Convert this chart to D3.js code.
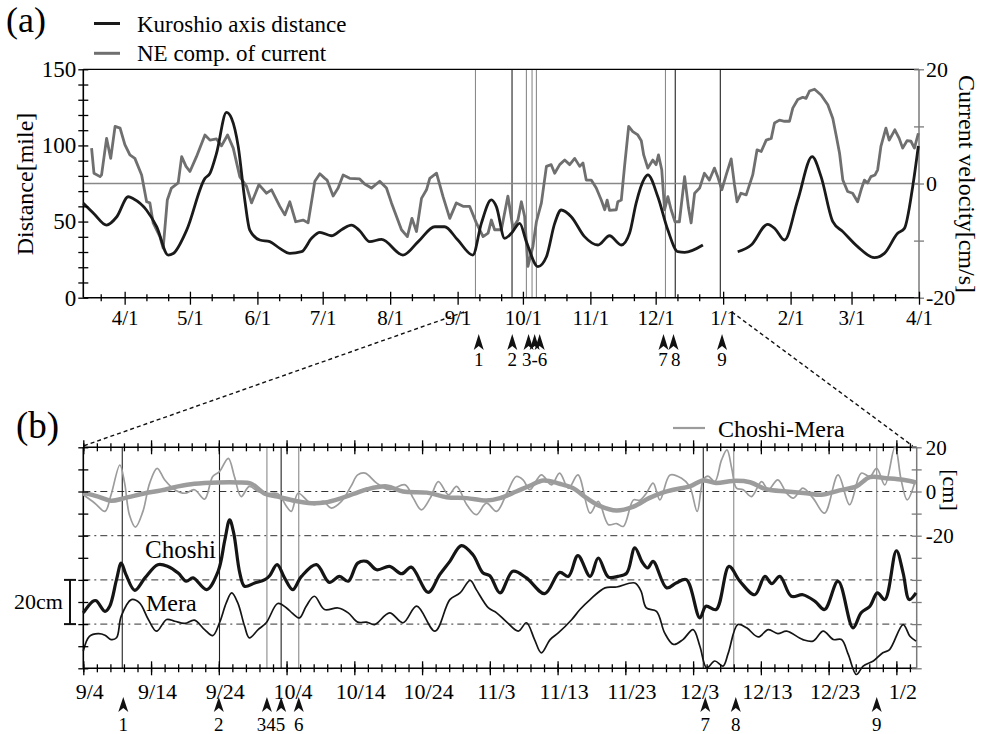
<!DOCTYPE html>
<html>
<head>
<meta charset="utf-8">
<title>Kuroshio axis distance / Choshi-Mera sea level</title>
<script src="https://cdn.jsdelivr.net/npm/d3@7"></script>
<style>
  body { margin: 0; background: #fff; }
  svg, svg text { font-family: "Liberation Serif", "Times New Roman", serif; }
</style>
</head>
<body>
<script>
// ---------- panel (a): [day since 3/13, value] ----------
var kuroshioDist = [[0,62],[5,55],[10.7,47.7],[15.3,53],[20.7,66.3],[23,65],[29,57.6],[33.7,46.6],[39,28],[41.3,29],
  [47.5,44.4],[55.9,78.4],[58.2,81.7],[61.2,94.8],[65.8,121.7],[68.1,117.8],[71.2,99.2],[74.2,64.2],[76.5,44.4],
  [81.1,37.9],[85.7,36.8],[90.3,32.4],[94.9,29.1],[100.3,30.2],[104.9,39],[108.7,42.9],[114,40.7],[119,45],[123.2,47.7],
  [127,44],[131.6,36.8],[137,38.3],[146.9,28],[154,37],[161.5,46.6],[166,46.6],[172,38],[179,28],[182.9,48.8],
  [187.5,64.2],[189.8,59.8],[193.6,39],[196.7,42.3],[200.5,48.8],[203.6,36.8],[208.9,20.4],[212.8,26.9],[216.6,48.8],
  [219.6,57.6],[224.2,53.2],[230.3,40.1],[236.5,34.6],[241.8,40.7],[247.2,34.6],[251,42.3],[254,62],[257.9,78.4],
  [259.4,80.6],[264,66.3],[268.6,44.4],[273.2,30.2],[276.3,29.8],[284.7,34.6],[292,null],
  [300.7,30.2],[306.9,34.6],[314.5,48.2],[318,45],[322.2,37.9],[328.3,64.2],[334.9,92.6],[339,79.5],[344.4,49.9],
  [349,43.4],[355.8,33.5],[363.5,26.3],[368.1,29.1],[374.2,42.3],[377.3,45.5],[381.1,72.9],[383.7,99.6]];

var neCurrent = [[3.8,6.2],[4.9,1.8],[7.7,1.2],[8.4,1.5],[10.7,7.9],[12.6,4.4],[14.6,10],[16.9,9.7],[19.1,6.8],[21.4,5],
  [23.7,4.4],[26.8,1.5],[29.1,-3.2],[30.6,-3.4],[32.1,-6.9],[35.2,-9.3],[36.7,-11.3],[38.6,-2.9],[40.5,-0.8],[43.6,0.1],
  [45.2,4.7],[47.2,3],[49,2.1],[52,4.7],[55.9,8.5],[58.2,7.6],[61.2,7.8],[63.5,6.6],[66.3,8.5],[68.9,6.2],[71.9,1.2],
  [75,-0.5],[77.3,-3.4],[80.7,-0.2],[84.2,-1.7],[86.5,-1.1],[90.3,-4],[92.6,-5.5],[94.9,-3.2],[97.6,-6.7],[101,-6.4],
  [103.3,-6.9],[106.4,0.4],[108.7,1.7],[111,0.9],[112,0.6],[114.8,-2.2],[117.1,-0.8],[119.4,1.5],[122.4,0.9],[127,0.8],
  [129.3,-0.1],[132.4,-0.8],[136.2,0.4],[139.3,-0.8],[141.6,-3.4],[146.2,-8.1],[148.9,-9.3],[151,-6.1],[153.1,-8.4],
  [155.4,-2.6],[157.7,-1.1],[159.2,0.9],[162.3,1.8],[165.3,-2.3],[168.4,-6.1],[171.4,-3.4],[174.5,-4],[177.5,-4],
  [180.6,-6.9],[183.7,-9.3],[186,-8.7],[187.5,-6.4],[189,-8.1],[192.1,-8.1],[195.1,-2.2],[197.4,-7.8],[199.7,-6.4],
  [201.3,-3.2],[202.8,-5.8],[204.3,-14.5],[206.6,-11],[208.2,-6.7],[210.5,-3.4],[212.8,3],[215,3.3],[216.6,1.8],
  [218.9,3.3],[221.2,4.1],[223.5,3.3],[225.8,4.4],[228.1,3],[229.6,3.6],[231.1,0.6],[233.4,0.6],[235.7,-0.8],[238,-2.9],
  [239.6,-4.6],[240.7,-2.9],[241.8,-4.7],[244.9,-4.6],[245.6,-3.2],[247.2,-2.9],[248.7,3],[250.6,10],[252.5,9.1],
  [254.8,8.5],[256.4,7.5],[257.5,5],[259.4,2.7],[261.7,4.1],[263.2,3.3],[264.3,5],[265.8,2.4],[267.1,-4.6],[268.6,-2.3],
  [270.1,-4.6],[271.9,-6.7],[273.9,-6.7],[276.3,1.2],[278.1,-4.3],[279.3,-6.9],[280.9,-1.7],[283.2,-0.8],[285.4,1.8],
  [287.7,0.6],[290,2.7],[291.5,1.2],[293.4,-1.1],[295.4,1.5],[297.7,4.3],[299.2,-0.2],[300.4,-3.2],[302.2,-1.7],
  [304.6,-2],[307.6,1.5],[309.6,5.9],[311.5,5.6],[313.8,7.6],[316.1,7.9],[317.6,10.6],[319.9,11.1],[322.2,10.9],
  [324.5,10.9],[326,13.2],[328.3,14.7],[330.6,15.1],[332.1,14.9],[333.7,16.2],[336,16.5],[339,15.5],[342.1,13.8],
  [344.4,11.4],[345.9,8.5],[347.5,5.3],[349,0.6],[351.2,-1.4],[353.5,-1.7],[355.8,-3.2],[357.4,-1.1],[358.9,0.6],
  [360.4,0.1],[361.9,1.2],[363.8,1.5],[365,2.4],[366.5,6.5],[368.8,9.7],[370.3,7.6],[372.9,9.4],[374.9,7.9],
  [376.5,6.2],[378.5,7.5],[380.3,7.4],[381.9,6.2],[383.7,8.8]];

var eventDaysA = [180.2, 197.0, 203.6, 206.2, 208.2, 267.5, 272.0, 292.7];
var eventGrayA = [true, false, true, true, true, true, false, false];
var arrowDaysA = [181.7, 197.1, 204.6, 207.4, 209.7, 266.6, 271.2, 293.5];
var arrowLabelsA = [[181.7,"1"],[197.1,"2"],[207.4,"3-6"],[266.4,"7"],[272.2,"8"],[293.5,"9"]];

// ---------- panel (b): [day since 9/4, cm] ----------
var choshi = [[0,-54.9],[1.4,-49.7],[1.9,-49.4],[3.2,-54.2],[3.9,-51.9],[4.9,-39.9],[5.6,-32.4],[6.3,-37.6],[7.6,-44.7],
  [9.1,-39.1],[11,-33.1],[12.5,-33.9],[14,-36.9],[15.2,-40.6],[16.2,-39.1],[18.2,-44.4],[19.9,-36.1],[20.9,-21.8],
  [21.6,-12.8],[22.2,-18.8],[23.1,-36.9],[23.8,-42.9],[25.3,-41.4],[26.8,-39.9],[27.5,-38.1],[28.6,-33.1],[29.7,-39.1],
  [30.9,-44.4],[32.2,-38.4],[34.4,-33.1],[36.3,-41.1],[37.8,-38.4],[39.1,-40.6],[40.5,-32.4],[41.8,-31.6],[43.3,-35.4],
  [45.2,-33.9],[47,-37.2],[48.4,-34.2],[50.9,-45.6],[52.6,-37.6],[54.1,-31.6],[55.8,-24.5],[57.5,-28.6],[59,-36.9],
  [60,-38.1],[61.5,-45.9],[63.4,-36.1],[65.4,-39.1],[68.1,-46.2],[70.3,-36.6],[71.6,-38.4],[73,-29],[74.8,-38.4],
  [76,-30.1],[77.5,-38.7],[78.9,-38.4],[80.2,-36.9],[81.4,-25.5],[82.5,-32],[83.3,-34.6],[84.1,-31.6],[86.1,-43.6],
  [87.5,-41.4],[89,-39.9],[91,-57.2],[91.9,-51.9],[93.4,-53.4],[95.3,-33.9],[96.9,-40.6],[99.1,-46.7],[100.6,-38.4],
  [101.6,-41.7],[102.8,-38.4],[104.5,-47.4],[106.2,-46.7],[108,-49.7],[109.4,-53.4],[111.4,-40.6],[113.6,-61.7],
  [114.8,-54.9],[116.1,-51.9],[117.2,-45.9],[118.3,-48.9],[120,-26.8],[121,-36.9],[121.9,-48.9],[122.9,-45.9]];

var mera = [[0,-72.2],[0.9,-65.5],[2.2,-64.3],[3.2,-65],[4.1,-67],[4.9,-66.2],[5.6,-56.4],[7.1,-48.9],[8.3,-50.4],
  [9.6,-57.9],[10.8,-63.2],[12.3,-57.9],[13.5,-58.7],[15,-59.7],[16.4,-58.2],[17.9,-62.5],[19.1,-65.2],[20.1,-59.4],
  [21.1,-50.4],[21.9,-45.9],[22.8,-50.4],[23.8,-60.9],[24.5,-66.2],[25.8,-62.5],[27,-59.4],[28.7,-50.7],[30,-52.7],
  [30.9,-55.2],[31.9,-57.2],[32.9,-51.9],[34.1,-47.4],[35.6,-53.4],[37.6,-52.7],[39.1,-54.9],[40.5,-59.1],[41.8,-59.1],
  [43,-60.2],[45.2,-54.9],[47.2,-59.4],[49.2,-51.9],[51.9,-63.2],[54.1,-48.9],[55.6,-45.9],[57.1,-40.2],[58,-44.4],
  [59.8,-52.7],[61,-54.9],[62.5,-59.1],[64.2,-63.2],[65.4,-59.4],[66.6,-67],[67.6,-73],[68.9,-67],[70.1,-64],
  [72.1,-57.9],[73.3,-53.4],[74.8,-48.9],[77,-43.6],[78.7,-43.2],[81.4,-41.4],[82.3,-45],[83.1,-52.7],[84.6,-54.2],
  [85.8,-64],[87.1,-69.2],[88.5,-67],[90,-62.5],[91,-70],[92,-79.8],[93.2,-76.7],[94.4,-79],[95.2,-73],[96.6,-60.2],
  [97.9,-61.7],[99.6,-65.8],[101.1,-62.5],[102.5,-64.3],[103.8,-63.2],[106.2,-67],[107.7,-67.7],[109.2,-63.2],
  [110.7,-67],[111.9,-67],[112.9,-73.7],[114.1,-82.8],[115.1,-79],[116.6,-76.7],[118,-73],[119,-71.5],[121,-60.2],
  [122,-65.5],[122.9,-67.7]];

var diffDaily = [[0,-1.5],[1.7,-5.3],[3.2,-9],[4.1,-1.5],[5.4,12],[6.1,3.8],[6.8,-10.5],[7.7,-16.1],[8.8,-9],[9.8,3.8],
  [10.9,10.5],[12,5.3],[13.5,0.8],[15,-0.8],[16.4,0.8],[17.9,-3.5],[19.1,6.8],[20.1,9],[21.4,15],[22.3,6.8],[23.3,-2.3],
  [24.5,2.3],[25.8,0],[27,-1],[28.7,-1],[30,-6.8],[30.7,-9],[31.7,-0.8],[33.2,-4.5],[34.1,-6],[35.4,-4.5],[36.6,-7.5],
  [38.1,-4.5],[39.5,2.3],[40.5,7.5],[41.6,8.3],[43.3,3.8],[45.2,0.8],[47.5,3],[48.7,-3],[49.9,-8.3],[51.2,-3],
  [52.4,4.5],[53.9,-1.5],[55.1,2.3],[56.6,-6],[58,-10.5],[59.5,-5.3],[61,-9],[62.5,-0.8],[63.9,6.8],[64.9,5.3],
  [65.9,0.8],[67.6,7.5],[69.1,3],[70.3,8.3],[71.6,1.5],[73,7.5],[74.8,-9.8],[76,-4.5],[77.5,-15],[78.7,-14.5],
  [79.7,-15.8],[81.2,-3.8],[82.1,-4],[83.1,-0.8],[84.1,3.8],[85.1,-3.8],[86.6,7.5],[88.3,6],[89.5,2.3],[90.6,-9],
  [91.5,5.3],[92.2,7],[93.2,4.5],[94.2,14.3],[95,18.8],[95.7,10.5],[96.4,1.5],[97.4,0.8],[98.6,-2.3],[100.1,4.5],
  [101.1,0.8],[102.5,5.3],[103.8,-0.8],[104.8,-3],[106.2,1.5],[107.7,-3],[109.4,-9.8],[111.4,7.5],[113.1,-6],
  [114.8,8.3],[116.1,6.8],[117.1,10.5],[118.3,3],[119.8,20.3],[120.7,5.3],[121.6,-3.8],[122.7,3.8]];

var diffSmooth = [[0,-0.5],[2.2,-2.3],[4.1,-4.2],[6.1,-3],[9.1,-0.8],[11.5,0.5],[14,2.3],[16.4,3.5],[19.9,4.1],
  [22.8,4.1],[24.8,3.5],[26.8,-1],[28.7,-2.3],[31.2,-4.2],[33.7,-5.3],[35.6,-5],[38.1,-3],[40,-1],[41.9,1],[44.8,2.3],
  [47.2,0],[50.7,-0.5],[53.6,-2.6],[56.6,-3],[59.5,-4.1],[61.5,-3],[63.9,0],[65.9,2.6],[67.9,5],[70.3,3.5],[72.3,1.5],
  [74.3,-3],[76.2,-6.5],[78.7,-8.6],[81.2,-6.8],[83.5,-3],[85.5,-0.5],[87.1,0.8],[89.5,2.3],[91.5,5],[93.4,3.8],
  [95.9,4.8],[98.4,4.2],[100.8,1],[103.8,0],[106.7,-0.8],[108.9,-1.5],[111.6,0.5],[114.1,2.3],[116.1,6.5],[118.5,6],
  [121,5.3],[122.9,4.1]];

var eventDaysB = [5.75, 20.1, 27.1, 29.2, 31.8, 91.5, 96.0, 117.1];
var eventGrayB = [false, false, true, false, true, false, true, true];
var arrowDaysB = [5.9, 20.0, 27.1, 29.2, 31.8, 91.8, 96.3, 117.1];
var arrowLabelsB = [[5.9,"1"],[20.0,"2"],[27.7,"345"],[31.8,"6"],[91.8,"7"],[96.3,"8"],[117.1,"9"]];

// ---------- setup ----------
var width = 981, height = 734;
var serif = "Liberation Serif, Times New Roman, serif";
var svg = d3.select("body").append("svg").attr("width", width).attr("height", height)
  .attr("font-family", serif);

var t0A = new Date(2002, 2, 13), t1A = new Date(2003, 3, 1);
var t0B = new Date(2002, 8, 4);
function dateA(d) { return new Date(t0A.getTime() + d * 864e5); }
function dateB(d) { return new Date(t0B.getTime() + d * 864e5); }

var xA = d3.scaleTime().domain([t0A, t1A]).range([83.3, 919]);
var yL = d3.scaleLinear().domain([0, 150]).range([297.7, 69.3]);
var yR = d3.scaleLinear().domain([-20, 20]).range([297.7, 69.3]);

var xB = d3.scaleTime().domain([t0B, dateB(123)]).range([83.3, 916.7]);
var yB = d3.scaleLinear().domain([-80, 20]).range([668.3, 447.3]);

var grayA = "#6f6f6f", grayB = "#9c9c9c", axisGray = "#7a7a7a";

// drop d3's domain + font defaults, make ticks cross the axis line
function crossTicks(g, a, b) {
  g.attr("font-family", null).attr("font-size", null);
  g.select(".domain").remove();
  g.selectAll(".tick line").attr("stroke", "#000").attr("stroke-width", 1.3);
  if (a != null) g.selectAll(".tick line").each(function () {
    var l = d3.select(this);
    if (l.attr("x2") != null && +l.attr("x2") !== 0) l.attr("x1", a).attr("x2", b);
    else l.attr("y1", a).attr("y2", b);
  });
}

// ================= panel (a) =================
var gA = svg.append("g");

// event lines
gA.selectAll("line.ev").data(eventDaysA).enter().append("line")
  .attr("x1", function (d) { return xA(dateA(d)); }).attr("x2", function (d) { return xA(dateA(d)); })
  .attr("y1", yL(150)).attr("y2", yL(0))
  .attr("stroke", function (d, i) { return eventGrayA[i] ? "#8a8a8a" : "#222"; })
  .attr("stroke-width", 1.1);

// zero line of current
gA.append("line").attr("x1", xA.range()[0]).attr("x2", xA.range()[1])
  .attr("y1", yR(0)).attr("y2", yR(0)).attr("stroke", "#888").attr("stroke-width", 1.3);

// frame
gA.append("line").attr("x1", 83.3).attr("x2", 919).attr("y1", yL(150)).attr("y2", yL(150)).attr("stroke", "#000").attr("stroke-width", 1.3);
gA.append("line").attr("x1", 919).attr("x2", 919).attr("y1", yL(150)).attr("y2", yL(0)).attr("stroke", axisGray).attr("stroke-width", 1.5);
gA.append("line").attr("x1", 83.3).attr("x2", 83.3).attr("y1", yL(150)).attr("y2", yL(0)).attr("stroke", "#000").attr("stroke-width", 1.6);
gA.append("line").attr("x1", 83.3).attr("x2", 919).attr("y1", yL(0)).attr("y2", yL(0)).attr("stroke", "#000").attr("stroke-width", 1.6);

// series
var lineCur = d3.line().x(function (d) { return xA(dateA(d[0])); }).y(function (d) { return yR(d[1]); });
gA.append("path").datum(neCurrent).attr("d", lineCur)
  .attr("fill", "none").attr("stroke", grayA).attr("stroke-width", 2.8).attr("stroke-linejoin", "round");

var lineDist = d3.line().defined(function (d) { return d[1] != null; })
  .x(function (d) { return xA(dateA(d[0])); }).y(function (d) { return yL(d[1]); })
  .curve(d3.curveMonotoneX);
gA.append("path").datum(kuroshioDist).attr("d", lineDist)
  .attr("fill", "none").attr("stroke", "#1a1a1a").attr("stroke-width", 2.8);

// left axis
gA.append("g").attr("transform", "translate(83.3,0)")
  .call(d3.axisLeft(yL).tickValues(d3.range(0, 151, 10)).tickSize(5).tickPadding(2)
    .tickFormat(function (d) { return d % 50 === 0 ? d : ""; }))
  .call(function (g) { crossTicks(g, 5, -5); })
  .selectAll("text").attr("font-size", 23).attr("fill", "#000");

// right axis
var gR = gA.append("g").attr("transform", "translate(919,0)")
  .call(d3.axisRight(yR).tickValues([-20, -10, 0, 10, 20]).tickSize(5).tickPadding(2)
    .tickFormat(function (d) { return d % 20 === 0 ? d : ""; }))
  .call(function (g) { crossTicks(g, -5, 5); });
gR.selectAll(".tick line").attr("stroke", axisGray);
gR.selectAll("text").attr("font-size", 22).attr("fill", "#000");

// bottom axis: months + days 11 and 21
var monthTicks = d3.timeMonth.range(new Date(2002, 3, 1), new Date(2003, 3, 2));
var minorTicksA = d3.timeDay.range(t0A, t1A).filter(function (d) { return d.getDate() === 11 || d.getDate() === 21; });
gA.append("g").attr("transform", "translate(0," + yL(0) + ")")
  .call(d3.axisBottom(xA).tickValues(minorTicksA).tickSize(4).tickFormat(""))
  .call(function (g) { crossTicks(g, -3.5, 3.5); });
gA.append("g").attr("transform", "translate(0," + yL(0) + ")")
  .call(d3.axisBottom(xA).tickValues(monthTicks).tickSize(7).tickFormat(d3.timeFormat("%-m/%-d")))
  .call(function (g) { crossTicks(g, -6, 7); })
  .selectAll("text").attr("y", 12).attr("font-size", 21).attr("fill", "#000");

// axis titles
svg.append("text").attr("transform", "translate(33,184) rotate(-90)").attr("text-anchor", "middle")
  .attr("font-size", 24).text("Distance[mile]");
svg.append("text").attr("transform", "translate(959,184) rotate(90)").attr("text-anchor", "middle")
  .attr("font-size", 24).text("Current velocity[cm/s]");

// legend (a)
svg.append("text").attr("x", 6).attr("y", 32).attr("font-size", 36).text("(a)");
svg.append("line").attr("x1", 94).attr("x2", 120).attr("y1", 23.5).attr("y2", 23.5).attr("stroke", "#1a1a1a").attr("stroke-width", 3);
svg.append("text").attr("x", 137).attr("y", 32).attr("font-size", 23).text("Kuroshio axis distance");
svg.append("line").attr("x1", 94).attr("x2", 120).attr("y1", 53.3).attr("y2", 53.3).attr("stroke", grayA).attr("stroke-width", 3);
svg.append("text").attr("x", 137).attr("y", 61).attr("font-size", 23).text("NE comp. of current");

// arrows (a)
var arrowPathA = "M0,0 L5,16 L0,12 L-5,16 Z";
svg.selectAll("path.arA").data(arrowDaysA).enter().append("path")
  .attr("d", arrowPathA).attr("fill", "#111")
  .attr("transform", function (d) { return "translate(" + xA(dateA(d)) + ",334)"; });
svg.selectAll("text.arA").data(arrowLabelsA).enter().append("text")
  .attr("x", function (d) { return xA(dateA(d[0])); }).attr("y", 366)
  .attr("text-anchor", "middle").attr("font-size", 19).text(function (d) { return d[1]; });

// dashed connectors from (a) to (b)
var spanB = xB.domain();
svg.selectAll("line.conn").data([0, 1]).enter().append("line")
  .attr("x1", function (i) { return xA(spanB[i]); }).attr("y1", 312)
  .attr("x2", function (i) { return xB.range()[i] + (i ? -4 : 0); }).attr("y2", 446)
  .attr("stroke", "#111").attr("stroke-width", 1.4).attr("stroke-dasharray", "4,3");

// ================= panel (b) =================
var gB = svg.append("g");

// dash-dot reference levels
gB.selectAll("line.ref").data([0, -20, -40, -60]).enter().append("line")
  .attr("x1", xB.range()[0]).attr("x2", xB.range()[1])
  .attr("y1", function (d) { return yB(d); }).attr("y2", function (d) { return yB(d); })
  .attr("stroke", "#333").attr("stroke-width", 1).attr("stroke-dasharray", "7,4,2,4");

// event lines
gB.selectAll("line.ev").data(eventDaysB).enter().append("line")
  .attr("x1", function (d) { return xB(dateB(d)); }).attr("x2", function (d) { return xB(dateB(d)); })
  .attr("y1", yB(20)).attr("y2", yB(-80))
  .attr("stroke", function (d, i) { return eventGrayB[i] ? "#8a8a8a" : "#222"; })
  .attr("stroke-width", 1.1);

// frame
gB.append("line").attr("x1", 83.3).attr("x2", 916.7).attr("y1", yB(20)).attr("y2", yB(20)).attr("stroke", "#000").attr("stroke-width", 1.5);
gB.append("line").attr("x1", 83.3).attr("x2", 916.7).attr("y1", yB(-80)).attr("y2", yB(-80)).attr("stroke", "#000").attr("stroke-width", 1.6);
gB.append("line").attr("x1", 83.3).attr("x2", 83.3).attr("y1", yB(20)).attr("y2", yB(-80)).attr("stroke", "#000").attr("stroke-width", 1.6);
gB.append("line").attr("x1", 916.7).attr("x2", 916.7).attr("y1", yB(20)).attr("y2", yB(-80)).attr("stroke", axisGray).attr("stroke-width", 1.5);

// series
var lineB = d3.line().x(function (d) { return xB(dateB(d[0])); }).y(function (d) { return yB(d[1]); })
  .curve(d3.curveCatmullRom.alpha(0.5));
gB.append("path").datum(diffDaily).attr("d", lineB).attr("fill", "none").attr("stroke", grayB).attr("stroke-width", 1.7);
gB.append("path").datum(diffSmooth).attr("d", lineB).attr("fill", "none").attr("stroke", grayB).attr("stroke-width", 4.5);
gB.append("path").datum(choshi).attr("d", lineB).attr("fill", "none").attr("stroke", "#151515").attr("stroke-width", 3.2);
gB.append("path").datum(mera).attr("d", lineB).attr("fill", "none").attr("stroke", "#151515").attr("stroke-width", 1.7);

// time ticks every 2 days (major every 10)
var minorB = d3.range(0, 123, 2).map(dateB);
var majorB = d3.range(0, 121, 10).map(dateB);
[yB(20), yB(-80)].forEach(function (yy) {
  gB.append("g").attr("transform", "translate(0," + yy + ")")
    .call(d3.axisBottom(xB).tickValues(minorB).tickSize(4).tickFormat(""))
    .call(function (g) { crossTicks(g, -4, 4); });
  gB.append("g").attr("transform", "translate(0," + yy + ")")
    .call(d3.axisBottom(xB).tickValues(majorB).tickSize(6).tickFormat(""))
    .call(function (g) { crossTicks(g, -7, 7); });
});
gB.append("g").attr("transform", "translate(0," + yB(-80) + ")")
  .call(d3.axisBottom(xB).tickValues(majorB).tickSize(0).tickFormat(d3.timeFormat("%-m/%-d")))
  .call(function (g) { crossTicks(g, null, null); })
  .selectAll("text").attr("x", 6).attr("y", 15).attr("font-size", 22).attr("fill", "#000");

// level ticks every 10 cm
gB.append("g").attr("transform", "translate(83.3,0)")
  .call(d3.axisLeft(yB).tickValues(d3.range(-80, 21, 10)).tickSize(5).tickFormat(""))
  .call(function (g) { crossTicks(g, 5, -5); });
var gBR = gB.append("g").attr("transform", "translate(916.7,0)")
  .call(d3.axisRight(yB).tickValues(d3.range(-80, 21, 10)).tickSize(5).tickPadding(4)
    .tickFormat(function (d) { return (d === 20 || d === 0 || d === -20) ? d : ""; }))
  .call(function (g) { crossTicks(g, -5, 5); });
gBR.selectAll(".tick line").attr("stroke", axisGray);
gBR.selectAll("text").attr("font-size", 21).attr("fill", "#000");

svg.append("text").attr("transform", "translate(943,490) rotate(90)").attr("text-anchor", "middle")
  .attr("font-size", 22).text("[cm]");

// labels (b)
svg.append("text").attr("x", 16).attr("y", 438).attr("font-size", 37).text("(b)");
svg.append("line").attr("x1", 673).attr("x2", 705).attr("y1", 428).attr("y2", 428).attr("stroke", grayB).attr("stroke-width", 2.2);
svg.append("text").attr("x", 718).attr("y", 437).attr("font-size", 24).text("Choshi-Mera");
svg.append("text").attr("x", 145).attr("y", 558).attr("font-size", 25).text("Choshi");
svg.append("text").attr("x", 146).attr("y", 611).attr("font-size", 24).text("Mera");

// 20 cm scale bar
var barX = 70;
svg.append("line").attr("x1", barX).attr("x2", barX).attr("y1", yB(-40)).attr("y2", yB(-60)).attr("stroke", "#111").attr("stroke-width", 2);
svg.selectAll("line.serif").data([-40, -60]).enter().append("line")
  .attr("x1", barX - 6).attr("x2", barX + 6)
  .attr("y1", function (d) { return yB(d); }).attr("y2", function (d) { return yB(d); })
  .attr("stroke", "#111").attr("stroke-width", 2);
svg.append("text").attr("x", 14).attr("y", 609).attr("font-size", 22).text("20cm");

// arrows (b)
var arrowPathB = "M0,0 L5,15 L0,11 L-5,15 Z";
svg.selectAll("path.arB").data(arrowDaysB).enter().append("path")
  .attr("d", arrowPathB).attr("fill", "#111")
  .attr("transform", function (d) { return "translate(" + xB(dateB(d)) + ",697)"; });
svg.selectAll("text.arB").data(arrowLabelsB).enter().append("text")
  .attr("x", function (d) { return xB(dateB(d[0])); }).attr("y", 731)
  .attr("text-anchor", "middle").attr("font-size", 19).text(function (d) { return d[1]; });
</script>
</body>
</html>
